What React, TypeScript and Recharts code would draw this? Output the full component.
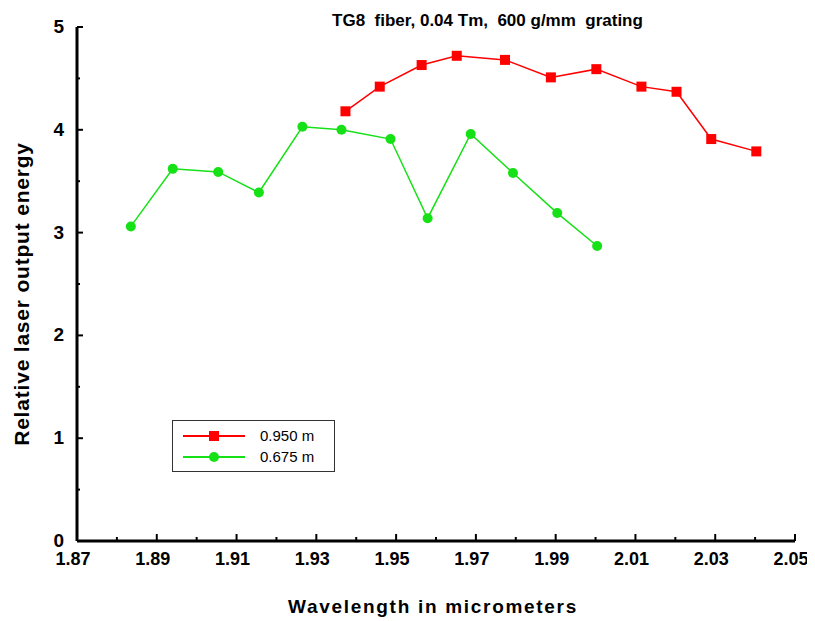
import { Label, Line, LineChart, XAxis, YAxis } from "recharts";

const xTicks = [1.87, 1.88, 1.89, 1.9, 1.91, 1.92, 1.93, 1.94, 1.95, 1.96, 1.97, 1.98, 1.99, 2.0, 2.01, 2.02, 2.03, 2.04, 2.05];
const yTicks = [0, 0.5, 1, 1.5, 2, 2.5, 3, 3.5, 4, 4.5, 5];

// 0.950 m fiber
const redX = [1.9373, 1.9459, 1.9564, 1.9652, 1.9773, 1.9888, 2.0002, 2.0115, 2.0203, 2.029, 2.0403];
const redY = [4.18, 4.42, 4.63, 4.72, 4.68, 4.51, 4.59, 4.42, 4.37, 3.91, 3.79];

// 0.675 m fiber
const greenX = [1.8835, 1.894, 1.9054, 1.9156, 1.9265, 1.9363, 1.9486, 1.9579, 1.9687, 1.9793, 1.9904, 2.0004];
const greenY = [3.06, 3.62, 3.59, 3.39, 4.03, 4.0, 3.91, 3.14, 3.96, 3.58, 3.19, 2.87];

const RED = "#ff0000";
const GREEN = "#16e016";
const FONT = "'Liberation Sans', Arial, sans-serif";

const redData = redX.map((x, i) => ({ x, y: redY[i] }));
const greenData = greenX.map((x, i) => ({ x, y: greenY[i] }));

function XTick({ x, y, payload, index }: any) {
  const major = index % 2 === 0;
  return (
    <g>
      <line x1={x} x2={x} y1={y} y2={y - (major ? 7 : 4)} stroke="#000" strokeWidth={2} />
      {major ? (
        <text x={x - 4} y={y + 24} textAnchor="middle" fontFamily={FONT} fontWeight="bold" fontSize={18} fill="#000">
          {payload.value.toFixed(2)}
        </text>
      ) : null}
    </g>
  );
}

function YTick({ x, y, payload, index }: any) {
  const major = index % 2 === 0;
  return (
    <g>
      <line x1={x} x2={x + (major ? 6 : 3)} y1={y} y2={y} stroke="#000" strokeWidth={2} />
      {major ? (
        <text x={x - 13} y={y + 6} textAnchor="end" fontFamily={FONT} fontWeight="bold" fontSize={19} fill="#000">
          {payload.value}
        </text>
      ) : null}
    </g>
  );
}

function RedSquare({ cx, cy, index }: any) {
  return <rect key={index} x={cx - 5} y={cy - 5} width={10} height={10} fill={RED} />;
}

function GreenDot({ cx, cy, index }: any) {
  return <circle key={index} cx={cx} cy={cy} r={5} fill={GREEN} />;
}

function LegendBox() {
  const row = (color: string, label: string, square: boolean) => (
    <div style={{ display: "flex", alignItems: "center", height: 21 }}>
      <svg width={70} height={14}>
        <line x1={2} x2={64} y1={7} y2={7} stroke={color} strokeWidth={2} />
        {square ? (
          <rect x={28} y={2} width={10} height={10} fill={color} />
        ) : (
          <circle cx={33} cy={7} r={5} fill={color} />
        )}
      </svg>
      <span style={{ marginLeft: 9, fontSize: 15, fontFamily: FONT, color: "#000" }}>{label}</span>
    </div>
  );
  return (
    <div
      style={{
        position: "absolute",
        left: 172,
        top: 420,
        width: 163,
        height: 52,
        border: "1.5px solid #333",
        boxSizing: "border-box",
        padding: "4px 0 0 8px",
        background: "#fff",
        zIndex: 1,
      }}
    >
      {row(RED, "0.950 m", true)}
      {row(GREEN, "0.675 m", false)}
    </div>
  );
}

export default function App() {
  return (
    <div style={{ position: "relative", width: 815, height: 621, margin: "-8px 0 0 -8px", background: "#fff" }}>
      <div
        style={{
          position: "absolute",
          left: 0,
          width: 975,
          top: 11,
          textAlign: "center",
          fontFamily: FONT,
          fontWeight: "bold",
          fontSize: 17,
          whiteSpace: "pre",
          zIndex: 1,
        }}
      >
        {"TG8  fiber, 0.04 Tm,  600 g/mm  grating"}
      </div>
      <LegendBox />
      <LineChart width={815} height={621} margin={{ top: 27, right: 20, bottom: 0, left: 17 }}>
        <XAxis
          dataKey="x"
          type="number"
          domain={[1.87, 2.05]}
          ticks={xTicks}
          interval={0}
          allowDataOverflow
          tick={<XTick />}
          tickLine={false}
          tickSize={0}
          tickMargin={0}
          height={80}
          axisLine={{ stroke: "#000", strokeWidth: 3 }}
        >
          <Label
            content={({ viewBox }: any) => (
              <text
                x={viewBox.x + viewBox.width / 2 - 3}
                y={viewBox.y + 72}
                textAnchor="middle"
                fontFamily={FONT}
                fontWeight="bold"
                fontSize={19}
                letterSpacing={1.7}
                fill="#000"
              >
                Wavelength in micrometers
              </text>
            )}
          />
        </XAxis>
        <YAxis
          dataKey="y"
          type="number"
          domain={[0, 5]}
          ticks={yTicks}
          interval={0}
          width={60}
          tick={<YTick />}
          tickLine={false}
          tickSize={0}
          tickMargin={0}
          axisLine={{ stroke: "#000", strokeWidth: 3 }}
        >
          <Label
            content={() => (
              <text
                x={29}
                y={294}
                transform="rotate(-90 29 294)"
                textAnchor="middle"
                fontFamily={FONT}
                fontWeight="bold"
                fontSize={21}
                letterSpacing={0.8}
                fill="#000"
              >
                Relative laser output energy
              </text>
            )}
          />
        </YAxis>
        <Line
          data={redData}
          dataKey="y"
          name="0.950 m"
          stroke={RED}
          strokeWidth={1.5}
          dot={<RedSquare />}
          activeDot={false}
          isAnimationActive={false}
        />
        <Line
          data={greenData}
          dataKey="y"
          name="0.675 m"
          stroke={GREEN}
          strokeWidth={1.5}
          dot={<GreenDot />}
          activeDot={false}
          isAnimationActive={false}
        />
      </LineChart>
    </div>
  );
}
